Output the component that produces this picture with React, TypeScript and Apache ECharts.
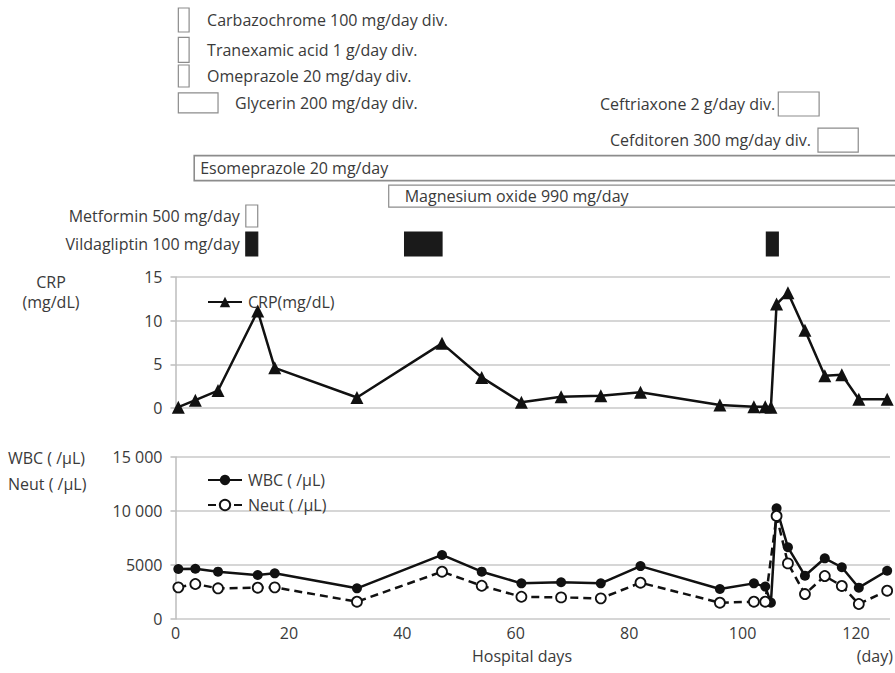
import React, { useEffect, useRef } from 'react';
import * as echarts from 'echarts';

// ---- data ----
const days = [0.5, 3.5, 7.5, 14.5, 17.5, 32, 47, 54, 61, 68, 75, 82, 96, 102, 104, 105, 106, 108, 111, 114.5, 117.5, 120.5, 125.5];
const crp = [0.1, 0.9, 2.0, 11.1, 4.6, 1.2, 7.4, 3.5, 0.65, 1.3, 1.4, 1.8, 0.35, 0.15, 0.15, 0.1, 11.9, 13.2, 8.9, 3.7, 3.8, 1.0, 1.0];
const wbc = [4630, 4650, 4380, 4070, 4230, 2840, 5930, 4380, 3300, 3400, 3300, 4900, 2780, 3300, 3000, 1510, 10250, 6640, 4010, 5620, 4790, 2900, 4470];
const neut = [2930, 3240, 2840, 2900, 2930, 1600, 4380, 3080, 2060, 2000, 1910, 3360, 1510, 1600, 1600, null, 9540, 5150, 2310, 3980, 3060, 1390, 2620];

const crpTicks = [0, 5, 10, 15];
const wbcTicks = [0, 5000, 10000, 15000];
const dayTicks = [0, 20, 40, 60, 80, 100, 120];

const medNames = [
  'Carbazochrome 100 mg/day div.',
  'Tranexamic acid 1 g/day div.',
  'Omeprazole 20 mg/day div.',
  'Glycerin 200 mg/day div.',
  'Ceftriaxone 2 g/day div.',
  'Cefditoren 300 mg/day div.',
  'Esomeprazole 20 mg/day',
  'Magnesium oxide 990 mg/day',
  'Metformin 500 mg/day',
  'Vildagliptin 100 mg/day',
];
// [medication index, start day, end day, show label]
const medPeriods: number[][] = [
  [0, 0.5, 2.4, 1],
  [1, 0.5, 2.4, 1],
  [2, 0.5, 2.4, 1],
  [3, 0.5, 7.5, 1],
  [4, 106.3, 113.5, 1],
  [5, 113.3, 120.4, 1],
  [6, 3.3, 130, 1],
  [7, 37.6, 130, 1],
  [8, 12.4, 14.5, 1],
  [9, 12.4, 14.5, 1],
  [9, 40.4, 47, 0],
  [9, 104.2, 106.3, 0],
];
const medFilled = [false, false, false, false, false, false, false, false, false, true];

// ---- layout / style (not data) ----
const laneY = [0, 1.07, 2, 2.96, 3, 4.29, 5.29, 6.29, 7, 8];
const laneH = [24, 25, 22, 20, 24, 24, 25, 22, 22, 24];
const labelSide = ['right', 'right', 'right', 'right', 'left', 'left', 'inside', 'inside', 'left', 'left'];
const labelGap = [18, 18, 18, 17, 3, 7, 6, 16, 6, 6];

const FONT = '"Open Sans", "Noto Sans", sans-serif';
const TXT = '#3a3a3a';
const FS = 16;
const GRID_LEFT = 175.5;
const GRID_RIGHT = 5;
const XMAX = 126;

export default function App() {
  const ref = useRef<HTMLDivElement>(null);
  useEffect(() => {
    document.body.style.margin = '0';
    const chart = echarts.init(ref.current!, null, { renderer: 'svg' });
    const gridLine = { lineStyle: { color: '#c8c8c8', width: 1.5 } };
    const yAxisLine = { show: true, lineStyle: { color: '#bdbdbd', width: 1.5 } };
    const yTick = { show: true, length: 5, lineStyle: { color: '#bdbdbd', width: 1.5 } };
    const dayFmt = (v: number) => (dayTicks.includes(v) ? String(v) : '');

    const option: any = {
      animation: false,
      textStyle: { fontFamily: FONT },
      grid: [
        { left: GRID_LEFT, right: GRID_RIGHT, top: 277, height: 131 },
        { left: GRID_LEFT, right: GRID_RIGHT, top: 457, height: 162 },
        { left: GRID_LEFT, right: GRID_RIGHT, top: 6, height: 252 },
      ],
      xAxis: [
        { gridIndex: 0, type: 'value', min: 0, max: XMAX, interval: 20, show: true,
          axisLine: { show: false }, axisTick: { show: false }, axisLabel: { show: false }, splitLine: { show: false } },
        { gridIndex: 1, type: 'value', min: 0, max: XMAX, interval: 20,
          axisLine: { show: false }, axisTick: { show: false }, splitLine: { show: false },
          axisLabel: { formatter: dayFmt, color: TXT, fontSize: FS, fontFamily: FONT, margin: 6, lineHeight: 16 } },
        { gridIndex: 2, type: 'value', min: 0, max: XMAX, show: false },
      ],
      yAxis: [
        { gridIndex: 0, type: 'value', min: crpTicks[0], max: crpTicks[crpTicks.length - 1], interval: 5,
          axisLine: yAxisLine, axisTick: yTick, splitLine: gridLine,
          axisLabel: { color: TXT, fontSize: FS, fontFamily: FONT, margin: 13 } },
        { gridIndex: 1, type: 'value', min: wbcTicks[0], max: wbcTicks[wbcTicks.length - 1], interval: 5000,
          axisLine: yAxisLine, axisTick: yTick, splitLine: gridLine,
          axisLabel: { color: TXT, fontSize: FS, fontFamily: FONT, margin: 13,
            formatter: (v: number) => (v >= 10000 ? `${v / 1000} 000` : String(v)) } },
        { gridIndex: 2, type: 'value', min: -0.5, max: 8.5, inverse: true, show: false },
      ],
      legend: [
        { data: ['CRP(mg/dL)'], left: 202, top: 289, itemWidth: 34, itemHeight: 13, itemGap: 8,
          textStyle: { color: TXT, fontSize: FS, fontFamily: FONT, padding: [0, 0, 0, 1] } },
        { data: ['WBC ( /μL)', 'Neut ( /μL)'], orient: 'vertical', left: 202, top: 467, itemWidth: 34, itemHeight: 13, itemGap: 9,
          textStyle: { color: TXT, fontSize: FS, fontFamily: FONT, padding: [0, 0, 0, 1] } },
      ],
      series: [
        { name: 'CRP(mg/dL)', type: 'line', xAxisIndex: 0, yAxisIndex: 0,
          data: days.map((d, i) => [d, crp[i]]),
          symbol: 'triangle', symbolSize: 13,
          lineStyle: { color: '#111', width: 2.5 }, itemStyle: { color: '#111' } },
        { name: 'WBC ( /μL)', type: 'line', xAxisIndex: 1, yAxisIndex: 1,
          data: days.map((d, i) => [d, wbc[i]]),
          symbol: 'circle', symbolSize: 10,
          lineStyle: { color: '#111', width: 2.5 }, itemStyle: { color: '#111' } },
        { name: 'Neut ( /μL)', type: 'line', xAxisIndex: 1, yAxisIndex: 1,
          data: days.map((d, i) => [d, neut[i]]).filter((p) => p[1] !== null),
          symbol: 'circle', symbolSize: 10,
          lineStyle: { color: '#111', width: 2.5, type: [8, 5] },
          itemStyle: { color: '#fff', borderColor: '#111', borderWidth: 1.8 } },
        { name: 'medications', type: 'custom', xAxisIndex: 2, yAxisIndex: 2, clip: false,
          data: medPeriods.map((p) => [p[1], p[2], laneY[p[0]], p[0], p[3]]),
          encode: { x: [0, 1], y: 2 },
          renderItem: (params: any, api: any) => {
            const s = api.value(0), e = api.value(1), ly = api.value(2);
            const mi = api.value(3), showLabel = api.value(4);
            const a = api.coord([s, ly]);
            const b = api.coord([e, ly]);
            const h = laneH[mi];
            const children: any[] = [
              { type: 'rect', shape: { x: a[0], y: a[1] - h / 2, width: b[0] - a[0], height: h },
                style: { fill: medFilled[mi] ? '#1a1a1a' : '#fff', stroke: medFilled[mi] ? '#1a1a1a' : '#8c8c8c', lineWidth: mi === 6 ? 1.6 : 1.2 } },
            ];
            if (showLabel) {
              const side = labelSide[mi];
              const gap = labelGap[mi];
              let x = b[0] + gap, align = 'left';
              if (side === 'left') { x = a[0] - gap; align = 'right'; }
              if (side === 'inside') { x = a[0] + gap; align = 'left'; }
              children.push({ type: 'text', style: { text: medNames[mi], x, y: a[1], align, verticalAlign: 'middle',
                fill: TXT, font: `${FS}px ${FONT}` } });
            }
            return { type: 'group', children };
          } },
      ],
      graphic: [
        { type: 'text', x: 51, y: 282, style: { text: 'CRP', align: 'center', verticalAlign: 'middle', lineHeight: 16, fill: TXT, font: `${FS}px ${FONT}` } },
        { type: 'text', x: 51, y: 302, style: { text: '(mg/dL)', align: 'center', verticalAlign: 'middle', lineHeight: 16, fill: TXT, font: `${FS}px ${FONT}` } },
        { type: 'text', x: 8, y: 471, style: { text: 'WBC ( /μL)\nNeut ( /μL)', align: 'left', verticalAlign: 'middle', lineHeight: 26, fill: TXT, font: `${FS}px ${FONT}` } },
        { type: 'text', x: 522, y: 656, style: { text: 'Hospital days', align: 'center', verticalAlign: 'middle', lineHeight: 16, fill: TXT, font: `${FS}px ${FONT}` } },
        { type: 'text', x: 893, y: 656, style: { text: '(day)', align: 'right', verticalAlign: 'middle', lineHeight: 16, fill: TXT, font: `${FS}px ${FONT}` } },
      ],
    };
    chart.setOption(option);
    return () => chart.dispose();
  }, []);
  return <div ref={ref} style={{ width: 895, height: 673, position: 'absolute', left: 0, top: 0 }} />;
}
